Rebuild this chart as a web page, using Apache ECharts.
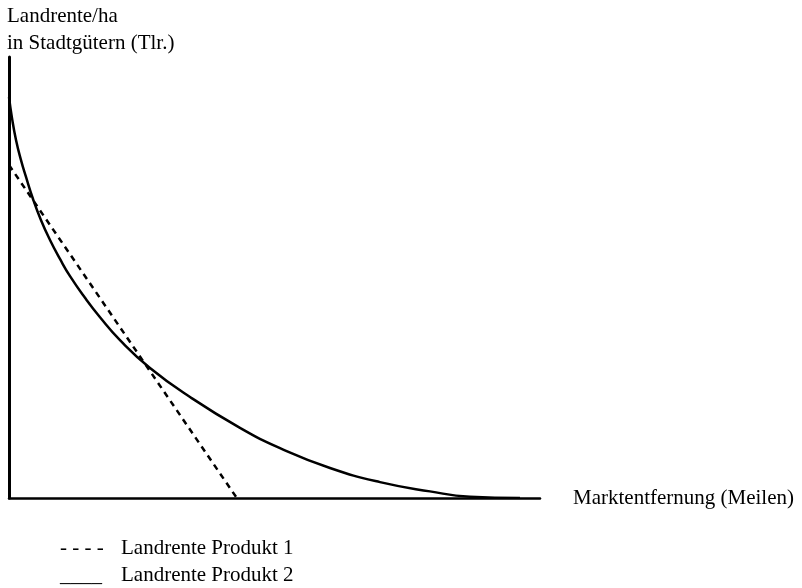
<!DOCTYPE html>
<html>
<head>
<meta charset="utf-8">
<script src="https://cdn.jsdelivr.net/npm/echarts@6/dist/echarts.min.js"></script>
<style>html,body{margin:0;padding:0;background:#fff}#c{width:802px;height:588px}</style>
</head>
<body>
<div id="c"></div>
<script>
var yAxisTitle = "Landrente/ha\nin Stadtgütern (Tlr.)";
var xAxisTitle = "Marktentfernung (Meilen)";
var seriesNames = ["Landrente Produkt 1", "Landrente Produkt 2"];
var legendMarks = ["- - - -", "____"];
var produkt1 = [[0, 75.5], [42.9, 0]];
var produkt2 = [[0, 90.9], [0.56, 86.2], [1.32, 81.2], [2.26, 76.6], [3.2, 72.8], [4.52, 67.8],
  [6.03, 63.0], [7.72, 58.5], [9.6, 54.2], [11.49, 50.3], [14.31, 45.4], [17.14, 41.0],
  [20.9, 35.8], [26.55, 29.5], [34.09, 22.9], [43.5, 15.9], [51.04, 11.3], [60.45, 6.8],
  [69.87, 3.6], [79.28, 1.5], [86.82, 0.3], [96.23, 0]];

var font = "'Liberation Serif', 'Times New Roman', serif";
var chart = echarts.init(document.getElementById('c'), null, {renderer: 'canvas'});
chart.setOption({
  animation: false,
  backgroundColor: '#fff',
  textStyle: {fontFamily: font},
  grid: {left: 9, right: 262, top: 57, bottom: 90},
  xAxis: {
    type: 'value', min: 0, max: 100,
    name: xAxisTitle, nameLocation: 'end', nameGap: 33,
    nameTextStyle: {fontFamily: font, fontSize: 21, color: '#000', verticalAlign: 'middle', padding: [8, 0, 0, 0]},
    axisLine: {lineStyle: {color: '#000', width: 2.5}},
    axisTick: {show: false}, axisLabel: {show: false}, splitLine: {show: false}
  },
  yAxis: {
    type: 'value', min: 0, max: 100,
    name: yAxisTitle, nameLocation: 'end', nameGap: 0,
    nameTextStyle: {fontFamily: font, fontSize: 21, color: '#000', align: 'left', verticalAlign: 'bottom', lineHeight: 27, padding: [0, 0, 0, -2]},
    axisLine: {lineStyle: {color: '#000', width: 3}},
    axisTick: {show: false}, axisLabel: {show: false}, splitLine: {show: false}
  },
  series: [
    {name: seriesNames[0], type: 'line', data: produkt1, symbol: 'none',
     lineStyle: {color: '#000', width: 2.5, type: [6, 5]}},
    {name: seriesNames[1], type: 'line', data: produkt2, symbol: 'none', smooth: true,
     lineStyle: {color: '#000', width: 2.5}}
  ],
  graphic: [
    {type: 'text', left: 60, top: 538, style: {text: legendMarks[0], font: "21px " + font, fill: '#000'}},
    {type: 'text', left: 121, top: 538, style: {text: seriesNames[0], font: "21px " + font, fill: '#000'}},
    {type: 'text', left: 60, top: 565, style: {text: legendMarks[1], font: "21px " + font, fill: '#000'}},
    {type: 'text', left: 121, top: 565, style: {text: seriesNames[1], font: "21px " + font, fill: '#000'}}
  ]
});
</script>
</body>
</html>
